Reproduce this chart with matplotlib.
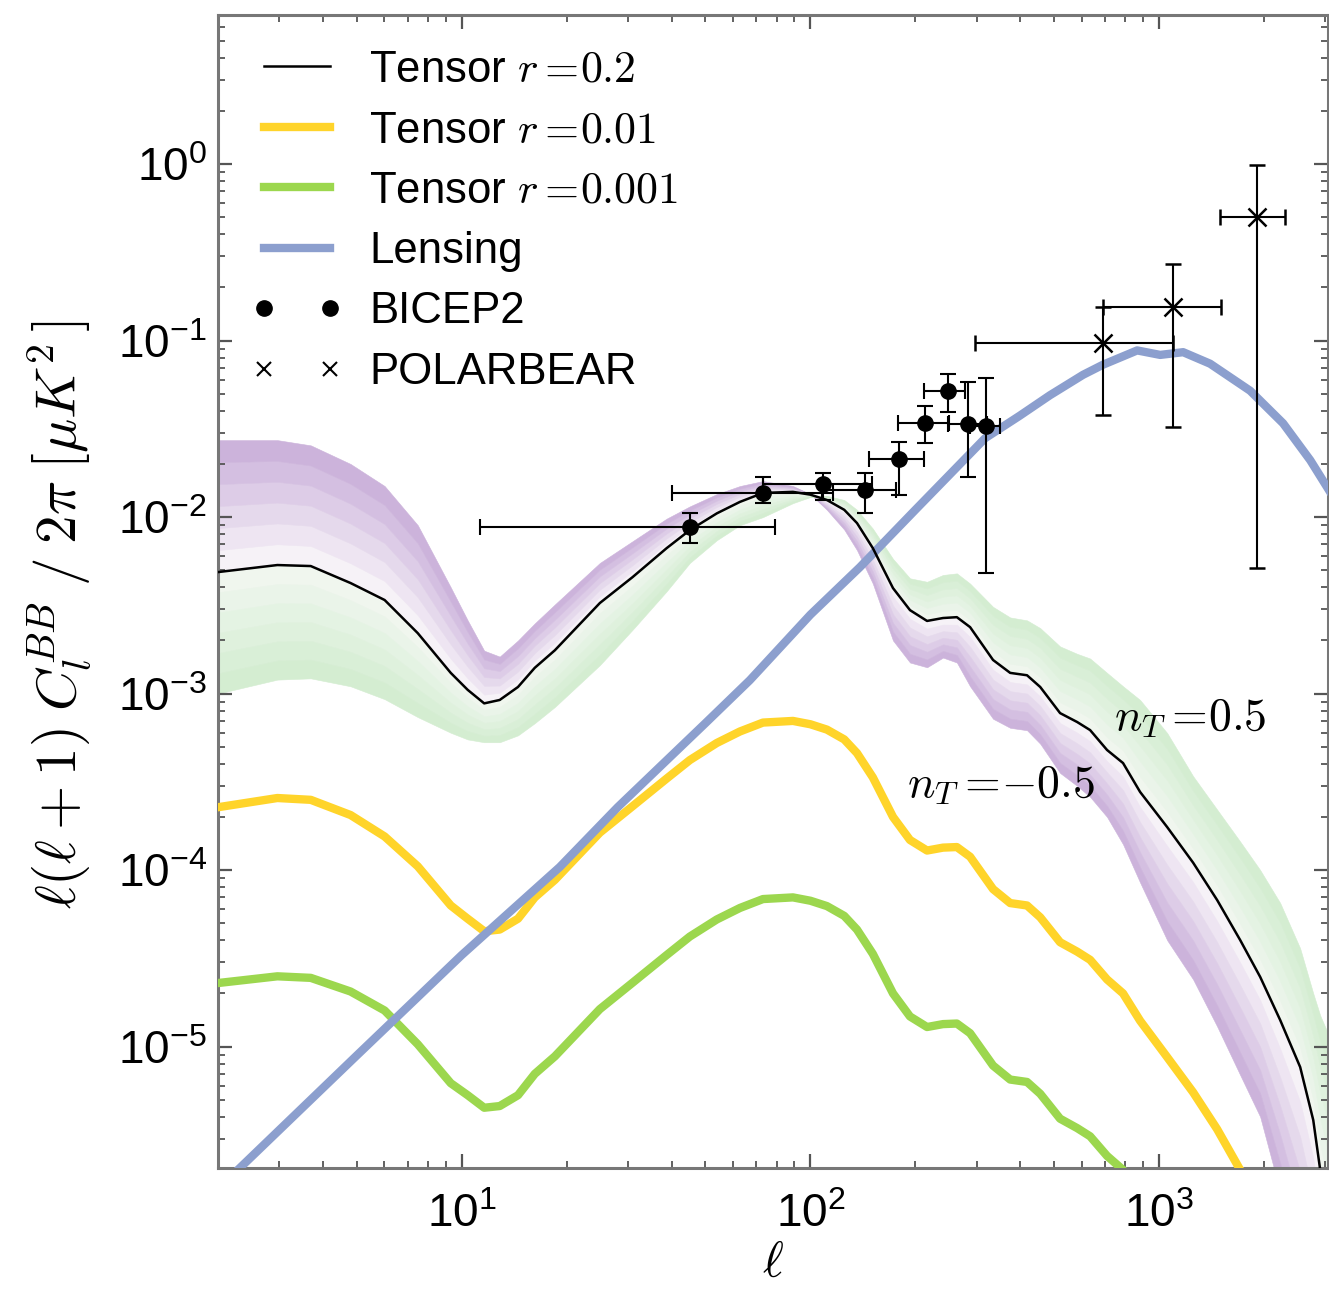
import numpy as np
import matplotlib
matplotlib.use('Agg')
import matplotlib.pyplot as plt
from matplotlib.lines import Line2D
from matplotlib.ticker import FixedLocator, FuncFormatter, NullFormatter
from matplotlib.font_manager import FontProperties

plt.rcParams['font.family'] = ['Liberation Sans', 'DejaVu Sans']
plt.rcParams['mathtext.fontset'] = 'custom'
plt.rcParams['mathtext.rm'] = 'Liberation Sans'
plt.rcParams['mathtext.it'] = 'Liberation Sans:italic'
plt.rcParams['mathtext.bf'] = 'Liberation Sans:bold'

# ---------------- data ----------------
ell = [2.0, 2.96, 3.69, 4.80, 6.01, 7.48, 9.30, 10.4, 11.6, 12.85, 14.5, 16.2, 18.5,
       24.9, 30.9, 38.7, 45.1, 53.9, 62.8, 73.1, 89.1, 100, 111.5, 125, 136, 151,
       172.5, 193, 216, 240, 263, 287, 334, 374, 418, 456, 520, 582, 634, 709, 788,
       882, 1055, 1252, 1467, 1708, 1949, 2225, 2538, 2767, 2897, 3100]

tensor_r02 = [4.88e-3, 5.35e-3, 5.28e-3, 4.23e-3, 3.39e-3, 2.20e-3, 1.31e-3, 1.05e-3,
              8.8e-4, 9.2e-4, 1.09e-3, 1.4e-3, 1.76e-3, 3.26e-3, 4.57e-3, 6.67e-3,
              8.44e-3, 1.05e-2, 1.22e-2, 1.37e-2, 1.39e-2, 1.34e-2, 1.25e-2, 1.10e-2,
              9.25e-3, 6.67e-3, 3.96e-3, 2.97e-3, 2.58e-3, 2.68e-3, 2.71e-3, 2.38e-3,
              1.55e-3, 1.31e-3, 1.27e-3, 1.09e-3, 7.75e-4, 6.90e-4, 6.21e-4, 4.79e-4,
              4.04e-4, 2.77e-4, 1.75e-4, 1.10e-4, 6.76e-5, 4.01e-5, 2.48e-5, 1.41e-5,
              7.65e-6, 3.83e-6, 2.0e-6, 1.0e-6]

tensor_r001 = [2.27e-4, 2.56e-4, 2.50e-4, 2.05e-4, 1.55e-4, 1.05e-4, 6.3e-5, 5.3e-5,
               4.5e-5, 4.6e-5, 5.3e-5, 7.0e-5, 8.8e-5, 1.63e-4, 2.3e-4, 3.3e-4,
               4.2e-4, 5.25e-4, 6.1e-4, 6.85e-4, 7.0e-4, 6.7e-4, 6.25e-4, 5.5e-4,
               4.6e-4, 3.35e-4, 2.0e-4, 1.48e-4, 1.29e-4, 1.34e-4, 1.35e-4, 1.19e-4,
               7.8e-5, 6.5e-5, 6.3e-5, 5.4e-5, 3.9e-5, 3.45e-5, 3.1e-5, 2.4e-5,
               2.0e-5, 1.4e-5, 8.7e-6, 5.5e-6, 3.4e-6, 2.0e-6, 1.24e-6, 7.0e-7,
               3.8e-7, 1.9e-7, 1.0e-7, 5.0e-8]

tensor_r0001 = [2.29e-5, 2.5e-5, 2.45e-5, 2.05e-5, 1.6e-5, 1.03e-5, 6.2e-6, 5.3e-6,
                4.5e-6, 4.6e-6, 5.3e-6, 7.0e-6, 8.8e-6, 1.63e-5, 2.3e-5, 3.3e-5,
                4.2e-5, 5.25e-5, 6.1e-5, 6.85e-5, 7.0e-5, 6.7e-5, 6.25e-5, 5.5e-5,
                4.6e-5, 3.35e-5, 2.0e-5, 1.48e-5, 1.29e-5, 1.34e-5, 1.35e-5, 1.19e-5,
                7.8e-6, 6.5e-6, 6.3e-6, 5.4e-6, 3.9e-6, 3.45e-6, 3.1e-6, 2.4e-6,
                2.0e-6, 1.4e-6, 8.7e-7, 5.5e-7, 3.4e-7, 2.0e-7, 1.24e-7, 7.0e-8,
                3.8e-8, 1.9e-8, 1.0e-8, 5.0e-9]

# r = 0.2 with tilted tensor spectrum (edges of the shaded bands)
band_nT_minus05 = [2.73e-2, 2.73e-2, 2.55e-2, 2.0e-2, 1.5e-2, 9.0e-3, 4.0e-3, 2.6e-3,
                   1.75e-3, 1.62e-3, 2.0e-3, 2.5e-3, 3.2e-3, 5.5e-3, 7.3e-3, 9.8e-3,
                   1.15e-2, 1.35e-2, 1.5e-2, 1.6e-2, 1.5e-2, 1.35e-2, 1.1e-2, 8.5e-3,
                   6.5e-3, 4.2e-3, 2.0e-3, 1.5e-3, 1.41e-3, 1.6e-3, 1.5e-3, 1.1e-3,
                   7.2e-4, 6.4e-4, 6.2e-4, 5.2e-4, 3.55e-4, 3.0e-4, 2.6e-4, 2.0e-4,
                   1.4e-4, 8.5e-5, 4.0e-5, 2.4e-5, 1.3e-5, 6.9e-6, 4.0e-6, 1.5e-6,
                   5.0e-7, 2.0e-7, 1.0e-7, 5.0e-8]

band_nT_plus05 = [1.0e-3, 1.2e-3, 1.22e-3, 1.1e-3, 9.3e-4, 7.36e-4, 6.0e-4, 5.5e-4,
                  5.3e-4, 5.3e-4, 5.8e-4, 6.8e-4, 8.4e-4, 1.45e-3, 2.3e-3, 3.8e-3,
                  5.5e-3, 7.4e-3, 9.0e-3, 1.0e-2, 1.2e-2, 1.3e-2, 1.32e-2, 1.25e-2,
                  1.1e-2, 8.6e-3, 5.8e-3, 4.5e-3, 4.3e-3, 4.7e-3, 4.8e-3, 4.2e-3,
                  3.1e-3, 2.7e-3, 2.6e-3, 2.35e-3, 1.85e-3, 1.68e-3, 1.58e-3, 1.31e-3,
                  1.1e-3, 9.2e-4, 5.97e-4, 3.4e-4, 2.2e-4, 1.45e-4, 1.0e-4, 6.5e-5,
                  3.6e-5, 2.0e-5, 1.5e-5, 1.1e-5]

lens_ell = [2.0, 2.28, 5, 10, 19.1, 28, 50, 67, 100, 138.6, 200, 317, 398, 486, 605,
            690, 865, 1007, 1172, 1400, 1824, 2267, 2713, 3070]
lens_val = [1.55e-6, 2.0e-6, 8.9e-6, 3.3e-5, 1.04e-4, 2.27e-4, 6.8e-4, 1.19e-3, 2.8e-3,
            5.2e-3, 1.1e-2, 2.8e-2, 3.75e-2, 4.9e-2, 6.4e-2, 7.3e-2, 8.8e-2, 8.3e-2,
            8.6e-2, 7.4e-2, 5.2e-2, 3.4e-2, 2.1e-2, 1.42e-2]

bicep_ell = [45.1, 73.1, 108.7, 143.3, 179.5, 213, 248, 283, 319]
bicep_ell_lo = [11.3, 40.2, 73, 108, 147, 178, 211, 248, 287]
bicep_ell_hi = [79, 116, 150, 176, 211, 250, 277, 320, 350]
bicep_val = [8.78e-3, 1.37e-2, 1.54e-2, 1.42e-2, 2.13e-2, 3.41e-2, 5.18e-2, 3.37e-2, 3.28e-2]
bicep_lo = [7.13e-3, 1.2e-2, 1.25e-2, 1.05e-2, 1.33e-2, 2.62e-2, 3.94e-2, 1.69e-2, 4.82e-3]
bicep_hi = [1.05e-2, 1.69e-2, 1.77e-2, 1.77e-2, 2.66e-2, 4.26e-2, 6.46e-2, 5.82e-2, 6.13e-2]

pb_ell = [690, 1097, 1910]
pb_ell_lo = [297, 690, 1496]
pb_ell_hi = [1097, 1506, 2296]
pb_val = [0.0968, 0.155, 0.50]
pb_lo = [0.0379, 0.0324, 5.14e-3]
pb_hi = [0.155, 0.271, 0.99]

legend_labels = [r'Tensor $r=\!0.2$', r'Tensor $r=\!0.01$', r'Tensor $r=\!0.001$',
                 'Lensing', 'BICEP2', 'POLARBEAR']

# ---------------- figure ----------------
W, H = 1329, 1291
fig = plt.figure(figsize=(W / 100, H / 100), dpi=100)
ax = fig.add_axes([218 / W, 1 - 1168 / H, 1110 / W, 1153 / H])
ax.set_xscale('log')
ax.set_yscale('log')

ell_a = np.array(ell)
blk = np.array(tensor_r02)


def gradient_band(edge, inner, outer, n=6):
    e = np.array(edge)
    inner = np.array(inner)
    outer = np.array(outer)
    prev = blk
    for k in range(1, n + 1):
        f = k / n
        cur = blk ** (1 - f) * e ** f
        c = inner + (outer - inner) * (k - 1) / (n - 1)
        ax.fill_between(ell_a, prev, cur, facecolor=c, edgecolor=c, lw=0.4, zorder=1)
        prev = cur


gradient_band(band_nT_minus05, (0.965, 0.95, 0.97), (0.80, 0.70, 0.86))
gradient_band(band_nT_plus05, (0.94, 0.965, 0.935), (0.83, 0.93, 0.82))

c_yellow = '#FFD42A'
c_green = '#9CD74E'
c_lens = '#8C9FCE'
ax.plot(ell, tensor_r001, color=c_yellow, lw=6, zorder=3, solid_joinstyle='round')
ax.plot(ell, tensor_r0001, color=c_green, lw=6, zorder=3, solid_joinstyle='round')
ax.plot(lens_ell, lens_val, color=c_lens, lw=6, zorder=4, solid_joinstyle='round')
ax.plot(ell, tensor_r02, color='k', lw=1.8, zorder=5, solid_joinstyle='round')

be = np.array(bicep_ell)
bv = np.array(bicep_val)
ax.errorbar(be, bv,
            yerr=[bv - np.array(bicep_lo), np.array(bicep_hi) - bv],
            xerr=[be - np.array(bicep_ell_lo), np.array(bicep_ell_hi) - be],
            fmt='o', color='k', ms=11, elinewidth=1.5, capsize=6, capthick=1.5, zorder=6)
pe = np.array(pb_ell)
pv = np.array(pb_val)
ax.errorbar(pe, pv,
            yerr=[pv - np.array(pb_lo), np.array(pb_hi) - pv],
            xerr=[pe - np.array(pb_ell_lo), np.array(pb_ell_hi) - pe],
            fmt='x', color='k', ms=13, mew=1.8, elinewidth=1.5, capsize=6, capthick=1.5,
            zorder=6)

ax.set_xlim(2, 3050)
ax.set_ylim(2.05e-6, 7)

# ticks
ax.xaxis.set_major_locator(FixedLocator([10, 100, 1000]))
ax.yaxis.set_major_locator(FixedLocator([1e-5, 1e-4, 1e-3, 1e-2, 1e-1, 1e0]))
xminor = [m * 10 ** e for e in range(0, 4) for m in range(2, 10)]
yminor = [m * 10 ** e for e in range(-6, 1) for m in range(2, 10)]
ax.xaxis.set_minor_locator(FixedLocator(xminor))
ax.yaxis.set_minor_locator(FixedLocator(yminor))
fmt = FuncFormatter(lambda v, p: r'$\mathregular{10^{%d}}$' % int(round(np.log10(v))))
ax.xaxis.set_major_formatter(fmt)
ax.yaxis.set_major_formatter(fmt)
ax.xaxis.set_minor_formatter(NullFormatter())
ax.yaxis.set_minor_formatter(NullFormatter())
ax.tick_params(which='both', direction='in', top=True, right=True, color='#555555')
ax.tick_params(which='major', length=10, width=1.6, labelsize=33)
ax.tick_params(which='minor', length=5, width=1.3)
ax.tick_params(axis='y', pad=8)
ax.tick_params(axis='x', pad=18)
for s in ax.spines.values():
    s.set_color('#777777')
    s.set_linewidth(2.2)

ax.set_xlabel(r'$\ell$', fontsize=36, math_fontfamily='cm', labelpad=3)
ax.set_ylabel(r'$\ell(\ell+1)\;C_l^{BB}\;/\;2\pi\;[\mu K^2\,]$', fontsize=41,
              math_fontfamily='cm')
ax.yaxis.set_label_coords(-0.113, 0.48)

ax.text(0.876, 0.39, r'$n_T=\!0.5$', transform=ax.transAxes, fontsize=33,
        math_fontfamily='cm', ha='center', va='center', zorder=7)
ax.text(0.705, 0.332, r'$n_T=\!{-}0.5$', transform=ax.transAxes, fontsize=33,
        math_fontfamily='cm', ha='center', va='center', zorder=7)

handles = [Line2D([], [], color='k', lw=1.8),
           Line2D([], [], color=c_yellow, lw=6),
           Line2D([], [], color=c_green, lw=6),
           Line2D([], [], color=c_lens, lw=6),
           Line2D([], [], ls='none', marker='o', color='k', ms=11),
           Line2D([], [], ls='none', marker='x', color='k', ms=10, mew=1.5)]
ax.legend(handles, legend_labels, loc='upper left', bbox_to_anchor=(0.030, 0.970),
          frameon=False, prop=FontProperties(family='Liberation Sans', size=31.5,
                                             math_fontfamily='cm'),
          handlelength=2.1, handletextpad=0.6, labelspacing=0.445, numpoints=2,
          borderpad=0, borderaxespad=0)

fig.savefig('out.png', dpi=100)
